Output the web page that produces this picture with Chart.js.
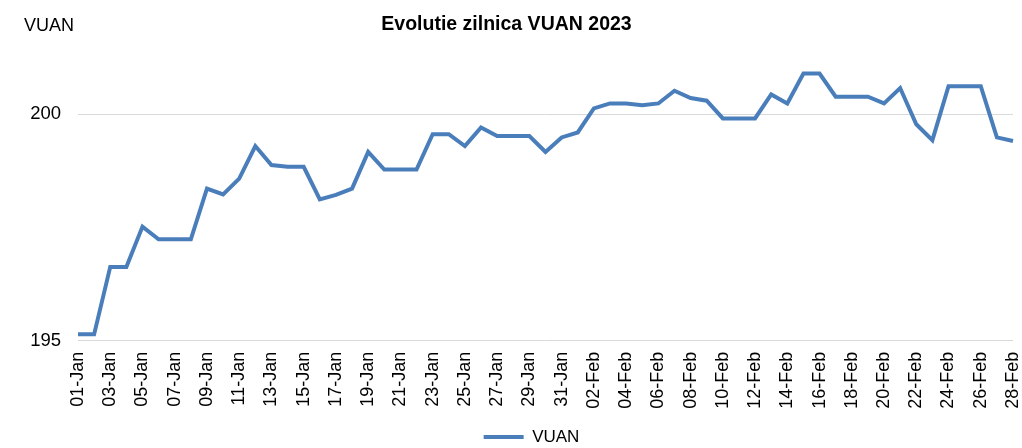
<!DOCTYPE html>
<html><head><meta charset="utf-8">
<script src="https://cdn.jsdelivr.net/npm/chart.js@4"></script>
<style>html,body{margin:0;padding:0;background:#fff}#wrap{width:1022px;height:448px;position:relative}</style>
</head><body><div id="wrap"><canvas id="c"></canvas></div>
<script>
const categories = [
 "01-Jan","02-Jan","03-Jan","04-Jan","05-Jan","06-Jan","07-Jan","08-Jan","09-Jan","10-Jan",
 "11-Jan","12-Jan","13-Jan","14-Jan","15-Jan","16-Jan","17-Jan","18-Jan","19-Jan","20-Jan",
 "21-Jan","22-Jan","23-Jan","24-Jan","25-Jan","26-Jan","27-Jan","28-Jan","29-Jan","30-Jan","31-Jan",
 "01-Feb","02-Feb","03-Feb","04-Feb","05-Feb","06-Feb","07-Feb","08-Feb","09-Feb","10-Feb",
 "11-Feb","12-Feb","13-Feb","14-Feb","15-Feb","16-Feb","17-Feb","18-Feb","19-Feb","20-Feb",
 "21-Feb","22-Feb","23-Feb","24-Feb","25-Feb","26-Feb","27-Feb","28-Feb"
];
const vuanValues = [
 195.14,195.14,196.63,196.63,197.52,197.24,197.24,197.24,198.36,198.23,
 198.58,199.30,198.88,198.84,198.84,198.12,198.22,198.36,199.17,198.78,
 198.78,198.78,199.56,199.56,199.30,199.71,199.52,199.52,199.52,199.17,199.49,
 199.60,200.13,200.24,200.24,200.20,200.24,200.52,200.36,200.30,199.91,
 199.91,199.91,200.44,200.24,200.90,200.90,200.39,200.39,200.39,200.24,
 200.58,199.78,199.43,200.62,200.62,200.62,199.49,199.41
];
const yTicks = [195, 200];
const chartTitle = "Evolutie zilnica VUAN 2023";
const seriesName = "VUAN";
const unitLabel = "VUAN";

const lineColor = "#4A7EBB";
const fontFam = "'Liberation Sans', Arial, sans-serif";

const unitPlugin = {
  id: 'unitLabel',
  afterDraw(chart) {
    const ctx = chart.ctx;
    ctx.save();
    ctx.font = "18px " + fontFam;
    ctx.fillStyle = "#000";
    ctx.textAlign = "left";
    ctx.textBaseline = "alphabetic";
    ctx.fillText(unitLabel, 24, 31);
    ctx.restore();
  }
};
const legendShift = {
  id: 'legendShift',
  afterLayout(chart) {
    const L = chart.legend;
    L.left += 25; L.right += 25;
    L.top += 7.5; L.bottom += 7.5;
  }
};

new Chart(document.getElementById('c'), {
  type: 'line',
  data: {
    labels: categories,
    datasets: [{
      label: seriesName,
      data: vuanValues,
      borderColor: lineColor,
      backgroundColor: lineColor,
      borderWidth: 4,
      pointRadius: 0,
      tension: 0,
      fill: false,
      borderJoinStyle: 'miter'
    }]
  },
  options: {
    responsive: true,
    maintainAspectRatio: false,
    animation: false,
    devicePixelRatio: 1,
    layout: { padding: { left: 0, right: 9, top: 0, bottom: 0 } },
    plugins: {
      title: {
        display: true,
        text: chartTitle,
        color: "#000",
        font: { family: fontFam, size: 19.5, weight: 'bold' },
        padding: { top: 13, bottom: 10 }
      },
      legend: {
        display: true,
        position: 'bottom',
        labels: {
          color: "#000",
          font: { family: fontFam, size: 17 },
          boxWidth: 40,
          boxHeight: 4,
          padding: 4,
          generateLabels: (chart) => Chart.defaults.plugins.legend.labels.generateLabels(chart)
            .map(l => Object.assign(l, { lineWidth: 0, fillStyle: lineColor }))
        }
      },
      tooltip: { enabled: false }
    },
    scales: {
      x: {
        type: 'category',
        offset: false,
        grid: { display: false, drawTicks: false },
        border: { display: false },
        ticks: {
          autoSkip: false,
          maxRotation: 90,
          minRotation: 90,
          padding: 11,
          color: "#000",
          font: { family: fontFam, size: 18 },
          callback: (v, i) => (i % 2 === 0 ? categories[i] : '')
        },
        afterFit(s) { s.height = 76.3; s.paddingLeft = 0; s.paddingRight = 0; }
      },
      y: {
        min: 195,
        max: 201.5,
        afterBuildTicks(s) { s.ticks = yTicks.map(v => ({ value: v })); },
        grid: { color: "#d9d9d9", lineWidth: 1, drawTicks: false },
        border: { display: false },
        ticks: {
          padding: 17,
          color: "#000",
          font: { family: fontFam, size: 18.5 }
        },
        afterFit(s) { s.width = 78; s.paddingTop = 0; s.paddingBottom = 0; }
      }
    }
  },
  plugins: [unitPlugin, legendShift]
});
</script>
</body></html>
